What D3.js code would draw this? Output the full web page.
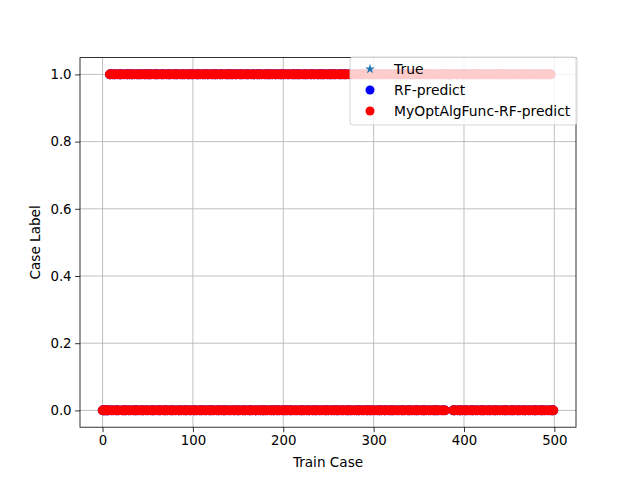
<!DOCTYPE html>
<html>
<head>
<meta charset="utf-8">
<script src="https://cdn.jsdelivr.net/npm/d3@7"></script>
<style>
  body { margin: 0; background: #fff; }
  svg text { font-family: "DejaVu Sans", sans-serif; }
  .grid line { stroke: #b0b0b0; stroke-width: 0.8; }
  .axis path, .axis line { stroke: #000; stroke-width: 0.8; }
  .axis text { font-size: 13.33px; fill: #000; }
</style>
</head>
<body>
<div id="chart"></div>
<script>

// labels per train case (0..499)
var trueLabels =
    "00000000110101100101110010011010110100101101001101" +
    "01101001011010011010010110100110110010110100110101" +
    "10010110100110101100101011010011010010110101100110" +
    "01011010011010010110011010100101011010100110010110" +
    "10100110010110101101001011010011010100110101101001" +
    "01101010100101100110100101011010100110101100101001" +
    "10110100101100110101001011010110010110100101101001" +
    "01101001011010110010010110101011111111000110100101" +
    "10010110100110101101001011010011010010110110100101" +
    "10100101100101101001101011010010110100101101101000";
var rfLabels = trueLabels;
var optLabels = trueLabels;

var seriesNames = ["True", "RF-predict", "MyOptAlgFunc-RF-predict"];
var xTicks = [0, 100, 200, 300, 400, 500];
var yTicks = [0.0, 0.2, 0.4, 0.6, 0.8, 1.0];

function toPoints(str) {
    return str.split("").map(function (c, i) { return {x: i, y: +c}; });
}

//--------------------------------------------------------------------------
//
// chart geometry
//
var outerWidth = 640,
    outerHeight = 480,
    margin = {top: 57.6, right: 64, bottom: 52.8, left: 80},
    width = outerWidth - margin.left - margin.right,
    height = outerHeight - margin.top - margin.bottom;

var svg = d3.select("#chart").append("svg")
    .attr("width", outerWidth)
    .attr("height", outerHeight);

var g = svg.append("g")
    .attr("transform", "translate(" + margin.left + "," + margin.top + ")");

var n = trueLabels.length;
var xScale = d3.scaleLinear()
    .domain([-0.05 * (n - 1), (n - 1) * 1.05])
    .range([0, width]);
var yScale = d3.scaleLinear()
    .domain([-0.05, 1.05])
    .range([height, 0]);

// grid
var grid = g.append("g").attr("class", "grid");
grid.selectAll(".gx").data(xTicks).enter().append("line")
    .attr("x1", function (d) { return xScale(d); })
    .attr("x2", function (d) { return xScale(d); })
    .attr("y1", 0).attr("y2", height);
grid.selectAll(".gy").data(yTicks).enter().append("line")
    .attr("y1", function (d) { return yScale(d); })
    .attr("y2", function (d) { return yScale(d); })
    .attr("x1", 0).attr("x2", width);

//--------------------------------------------------------------------------
//
// points
//
var star = d3.symbol().type(d3.symbolStar).size(30);
var r = 4.8;

g.append("g").selectAll("path")
    .data(toPoints(trueLabels)).enter().append("path")
    .attr("d", star)
    .attr("fill", "#1f77b4")
    .attr("transform", function (d) { return "translate(" + xScale(d.x) + "," + yScale(d.y) + ")"; });

g.append("g").selectAll("circle")
    .data(toPoints(rfLabels)).enter().append("circle")
    .attr("cx", function (d) { return xScale(d.x); })
    .attr("cy", function (d) { return yScale(d.y); })
    .attr("r", r)
    .attr("fill", "#0000ff");

g.append("g").selectAll("circle")
    .data(toPoints(optLabels)).enter().append("circle")
    .attr("cx", function (d) { return xScale(d.x); })
    .attr("cy", function (d) { return yScale(d.y); })
    .attr("r", r)
    .attr("fill", "#ff0000");

//--------------------------------------------------------------------------
//
// axes
//
g.append("rect")
    .attr("width", width).attr("height", height)
    .attr("fill", "none").attr("stroke", "#000").attr("stroke-width", 0.8);

var xAxis = g.append("g")
    .attr("class", "axis")
    .attr("transform", "translate(0," + height + ")")
    .call(d3.axisBottom(xScale).tickValues(xTicks).tickSize(4.9).tickPadding(3.5));
var yAxis = g.append("g")
    .attr("class", "axis")
    .call(d3.axisLeft(yScale).tickValues(yTicks).tickSize(4.9).tickPadding(3.5)
        .tickFormat(d3.format(".1f")));
xAxis.select(".domain").remove();
yAxis.select(".domain").remove();

g.append("text")
    .attr("x", width / 2).attr("y", height + 40)
    .attr("text-anchor", "middle")
    .attr("font-size", "13.6px")
    .text("Train Case");
g.append("text")
    .attr("transform", "translate(-40," + (height / 2) + ") rotate(-90)")
    .attr("text-anchor", "middle")
    .attr("font-size", "13.6px")
    .text("Case Label");

//--------------------------------------------------------------------------
//
// legend
//
var legend = svg.append("g").attr("transform", "translate(350,57)");
legend.append("rect")
    .attr("width", 227).attr("height", 68)
    .attr("rx", 3)
    .attr("fill", "#fff").attr("fill-opacity", 0.8)
    .attr("stroke", "#ccc").attr("stroke-width", 0.8);

var rows = legend.selectAll(".row").data(seriesNames).enter().append("g")
    .attr("transform", function (d, i) { return "translate(0," + (12 + i * 21) + ")"; });
rows.each(function (d, i) {
    var row = d3.select(this);
    if (i === 0) {
        row.append("path").attr("d", star)
            .attr("fill", "#1f77b4")
            .attr("transform", "translate(20,0)");
    } else {
        row.append("circle").attr("cx", 20).attr("cy", 0).attr("r", 4.5)
            .attr("fill", i === 1 ? "#0000ff" : "#ff0000");
    }
    row.append("text")
        .attr("x", 44).attr("y", 5)
        .attr("font-size", "13.9px")
        .text(d);
});

</script>
</body>
</html>
